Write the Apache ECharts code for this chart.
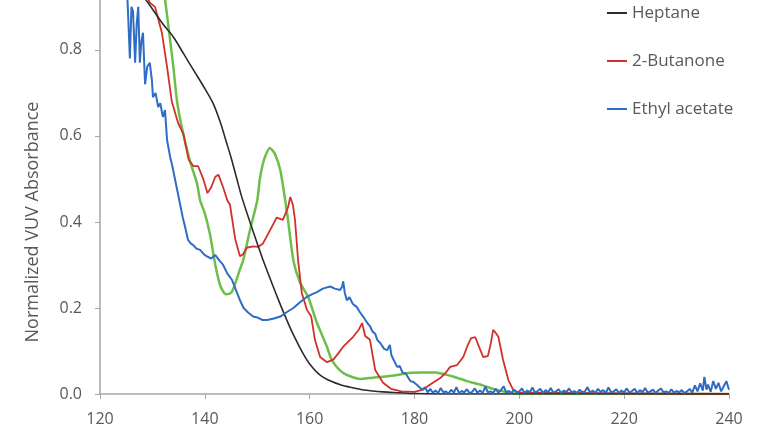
<!DOCTYPE html>
<html>
<head>
<meta charset="utf-8">
<script src="https://cdn.jsdelivr.net/npm/echarts@6/dist/echarts.min.js"></script>
<style>
  html, body { margin: 0; padding: 0; background: #fff; }
  #chart { width: 768px; height: 432px; }
</style>
</head>
<body>
<div id="chart"></div>
<script>
// 波长 (nm) 与归一化吸光度，逐点读自原图
const heptane = [
  [124, 1.0], [126, 0.97], [128, 0.93], [130, 0.895], [132, 0.86], [134, 0.83],
  [136, 0.79], [138, 0.75], [140, 0.71], [141.6, 0.675], [143, 0.63], [144, 0.59],
  [145, 0.55], [146, 0.505], [147, 0.46], [148.6, 0.4], [150, 0.35], [151, 0.315],
  [152.4, 0.27], [154, 0.22], [155.7, 0.17], [157, 0.135], [158.7, 0.095], [160, 0.07],
  [162, 0.044], [164, 0.03], [166, 0.021], [168, 0.015], [170, 0.01], [172, 0.007],
  [174, 0.005], [177, 0.003], [180, 0.001], [185, 0], [240, 0]
];

const butanone = [
  [126, 1.0], [128, 0.95], [129.5, 0.91], [130.5, 0.9], [131.8, 0.84], [132.8, 0.76],
  [133.7, 0.68], [134.9, 0.63], [135.9, 0.605], [136.9, 0.545], [137.8, 0.53], [138.7, 0.53],
  [139.7, 0.5], [140.5, 0.467], [141.2, 0.48], [142, 0.505], [142.6, 0.51], [143.5, 0.48],
  [144.3, 0.45], [144.8, 0.44], [145.8, 0.36], [146.7, 0.32], [147.3, 0.325], [148, 0.34],
  [149.2, 0.343], [150.2, 0.342], [151.1, 0.35], [152.4, 0.38], [153.7, 0.41], [154.9, 0.405],
  [155.9, 0.435], [156.3, 0.458], [156.8, 0.44], [157.2, 0.405], [157.8, 0.31], [158.5, 0.235],
  [159.5, 0.195], [160.3, 0.18], [161, 0.126], [162, 0.086], [163.3, 0.074], [164.5, 0.08],
  [165.5, 0.095], [166.4, 0.11], [168.3, 0.133], [169.4, 0.15], [170, 0.165], [170.6, 0.135],
  [171.5, 0.126], [172.5, 0.056], [174, 0.026], [175.5, 0.012], [177.5, 0.006], [180, 0.005],
  [181.6, 0.01], [183, 0.022], [184.9, 0.037], [186, 0.05], [186.8, 0.063], [188.1, 0.067],
  [189.3, 0.086], [190.2, 0.115], [190.8, 0.13], [191.6, 0.132], [192.3, 0.11], [193.1, 0.086],
  [194, 0.088], [194.6, 0.12], [195, 0.149], [195.5, 0.142], [196, 0.133], [196.9, 0.079],
  [197.9, 0.033], [198.8, 0.01], [200, 0.003], [240, 0]
];

const greenTrace = [
  [129, 1.0], [131, 0.98], [132, 0.95], [133, 0.86], [134, 0.76], [134.7, 0.68],
  [135.6, 0.62], [137.2, 0.54], [138.5, 0.49], [139.1, 0.45], [140, 0.42], [141, 0.37],
  [142, 0.3], [143, 0.25], [144, 0.232], [145, 0.235], [145.6, 0.25], [146.7, 0.29],
  [147.3, 0.31], [148.6, 0.38], [150, 0.45], [150.5, 0.5], [151.3, 0.545], [152.4, 0.572],
  [153.3, 0.56], [154.4, 0.52], [155.7, 0.42], [156.9, 0.31], [158.2, 0.258], [159.7, 0.226],
  [161.4, 0.165], [163.3, 0.11], [164, 0.085], [165, 0.065], [166.4, 0.049], [168, 0.04],
  [169.6, 0.035], [172, 0.038], [174, 0.04], [177, 0.045], [179, 0.049], [181.5, 0.05],
  [184, 0.05], [186, 0.045], [187.5, 0.04], [190, 0.03], [193, 0.02], [195, 0.012],
  [197.7, 0.004], [200, 0], [240, 0]
];

const ethylAcetate = [
  [124.6, 0.97], [125.2, 0.93], [125.7, 0.78], [126.0, 0.9], [126.3, 0.89], [126.7, 0.77],
  [127.0, 0.86], [127.3, 0.9], [127.6, 0.77], [127.9, 0.82], [128.2, 0.84], [128.6, 0.72],
  [129.0, 0.76], [129.5, 0.77], [129.9, 0.73], [130.1, 0.69], [130.6, 0.7], [131.1, 0.667],
  [131.5, 0.676], [132.0, 0.644], [132.4, 0.66], [132.8, 0.59], [133.1, 0.57], [133.4, 0.55],
  [133.8, 0.53], [134.3, 0.5], [134.8, 0.47], [135.3, 0.44], [135.8, 0.41], [136.2, 0.39],
  [136.8, 0.358], [137.3, 0.35], [137.8, 0.346], [138.4, 0.338], [139.1, 0.335], [139.8, 0.325],
  [140.4, 0.32], [141.2, 0.315], [142, 0.323], [142.8, 0.31], [143.5, 0.3], [144.3, 0.28],
  [145.2, 0.265], [146, 0.24], [146.7, 0.218], [147.4, 0.2], [148.2, 0.19], [149.2, 0.18],
  [150, 0.178], [151, 0.172], [151.9, 0.172], [153, 0.175], [154.4, 0.18], [155.6, 0.19],
  [156.9, 0.2], [158.2, 0.214], [159.5, 0.226], [160.5, 0.232], [161.4, 0.237], [162.5, 0.245],
  [163.9, 0.25], [164.8, 0.245], [165.8, 0.242], [166.2, 0.25], [166.4, 0.262], [166.7, 0.235],
  [167.1, 0.218], [167.6, 0.225], [168.2, 0.21], [169, 0.202], [169.6, 0.19], [170.2, 0.18],
  [171, 0.165], [171.5, 0.158], [172, 0.145], [172.5, 0.14], [172.9, 0.126], [173.5, 0.118],
  [174.2, 0.105], [174.8, 0.102], [175.3, 0.114], [175.6, 0.09], [176.2, 0.075], [176.7, 0.063],
  [177.2, 0.065], [177.7, 0.05], [178.3, 0.048], [178.6, 0.044], [179.2, 0.03], [179.8, 0.028],
  [180.5, 0.021], [181, 0.015], [181.5, 0.01], [182, 0.016], [182.5, 0.004], [183, 0.012],
  [183.5, 0.003], [184, 0.008], [184.5, 0.002], [185, 0.014], [185.5, 0.004], [186, 0.006],
  [186.5, 0.001], [187, 0.01], [187.5, 0.003], [188, 0.016], [188.5, 0.002], [189, 0.007],
  [189.5, 0.004], [190, 0.011], [190.5, 0.002], [191, 0.005], [191.5, 0.013], [192, 0.003],
  [192.5, 0.008], [193, 0.002], [193.5, 0.017], [194, 0.004], [194.5, 0.006], [195, 0.002],
  [195.5, 0.012], [196, 0.003], [196.5, 0.009], [197, 0.018], [197.5, 0.004], [198, 0.007],
  [198.5, 0.002], [199, 0.01], [199.5, 0.003], [200, 0.006], [200.5, 0.013], [201, 0.002],
  [201.5, 0.008], [202, 0.004], [202.5, 0.015], [203, 0.003], [203.5, 0.007], [204, 0.012],
  [204.5, 0.002], [205, 0.009], [205.5, 0.004], [206, 0.014], [206.5, 0.003], [207, 0.006],
  [207.5, 0.011], [208, 0.002], [208.5, 0.008], [209, 0.005], [209.5, 0.013], [210, 0.003],
  [210.5, 0.007], [211, 0.002], [211.5, 0.01], [212, 0.004], [212.5, 0.006], [213, 0.016],
  [213.5, 0.003], [214, 0.008], [214.5, 0.002], [215, 0.012], [215.5, 0.005], [216, 0.009],
  [216.5, 0.003], [217, 0.015], [217.5, 0.004], [218, 0.006], [218.5, 0.011], [219, 0.002],
  [219.5, 0.008], [220, 0.004], [220.5, 0.013], [221, 0.003], [221.5, 0.007], [222, 0.012],
  [222.5, 0.002], [223, 0.009], [223.5, 0.004], [224, 0.014], [224.5, 0.003], [225, 0.006],
  [225.5, 0.01], [226, 0.002], [226.5, 0.008], [227, 0.013], [227.5, 0.004], [228, 0.006],
  [228.5, 0.002], [229, 0.011], [229.5, 0.003], [230, 0.007], [230.5, 0.004], [231, 0.009],
  [231.5, 0.002], [232, 0.006], [232.5, 0.012], [233, 0.003], [233.5, 0.02], [234, 0.006],
  [234.5, 0.025], [235, 0.008], [235.3, 0.04], [235.7, 0.01], [236, 0.022], [236.5, 0.005],
  [237, 0.03], [237.5, 0.012], [238, 0.026], [238.5, 0.006], [239, 0.018], [239.5, 0.03],
  [240, 0.01]
];

// 坐标轴刻度（原图顶部被裁掉，y 轴只显示到约 0.916）
const xTicks = { min: 120, max: 240, step: 20 };
const yTicks = { min: 0, max: 0.916, step: 0.2 };

const textColor = '#595959';
const axisColor = '#a6a6a6';
const font = 'Open Sans';

const chart = echarts.init(document.getElementById('chart'));
chart.setOption({
  backgroundColor: '#ffffff',
  animation: false,
  grid: {
    left: 100,
    right: 39,
    top: 0,
    bottom: 38
  },
  legend: {
    orient: 'vertical',
    left: 607,
    top: 4,
    padding: 0,
    icon: 'rect',
    itemWidth: 20,
    itemHeight: 2,
    itemGap: 30,
    data: ['Heptane', '2-Butanone', 'Ethyl acetate'],
    textStyle: { color: textColor, fontSize: 17, fontFamily: font, lineHeight: 18 }
  },
  xAxis: {
    type: 'value',
    min: xTicks.min,
    max: xTicks.max,
    interval: xTicks.step,
    axisLine: { lineStyle: { color: axisColor, width: 1.5 } },
    axisTick: { show: true, length: 5, lineStyle: { color: axisColor } },
    axisLabel: { color: textColor, fontSize: 16, fontFamily: font, margin: 17 },
    splitLine: { show: false }
  },
  yAxis: {
    type: 'value',
    min: yTicks.min,
    max: yTicks.max,
    interval: yTicks.step,
    name: 'Normalized VUV Absorbance',
    nameLocation: 'middle',
    nameRotate: 90,
    nameGap: 58,
    nameTextStyle: { color: textColor, fontSize: 18, fontFamily: font, padding: [0, 50, 0, 0] },
    axisLine: { show: true, lineStyle: { color: axisColor, width: 1.5 } },
    axisTick: { show: true, length: 5, lineStyle: { color: axisColor } },
    axisLabel: {
      color: textColor, fontSize: 16, fontFamily: font, margin: 18,
      showMaxLabel: false,
      formatter: v => v.toFixed(1)
    },
    splitLine: { show: false }
  },
  series: [
    {
      name: 'Green trace',
      type: 'line',
      data: greenTrace,
      showSymbol: false,
      smooth: 0.2,
      lineStyle: { color: '#6cc04a', width: 2.5 },
      itemStyle: { color: '#6cc04a' }
    },
    {
      name: '2-Butanone',
      type: 'line',
      data: butanone,
      showSymbol: false,
      lineStyle: { color: '#d2312b', width: 1.8 },
      itemStyle: { color: '#d2312b' }
    },
    {
      name: 'Heptane',
      type: 'line',
      data: heptane,
      showSymbol: false,
      smooth: 0.3,
      lineStyle: { color: '#2b2b2b', width: 1.6 },
      itemStyle: { color: '#2b2b2b' }
    },
    {
      name: 'Ethyl acetate',
      type: 'line',
      data: ethylAcetate,
      showSymbol: false,
      lineStyle: { color: '#2f6cc4', width: 2 },
      itemStyle: { color: '#2f6cc4' }
    }
  ]
});
</script>
</body>
</html>
